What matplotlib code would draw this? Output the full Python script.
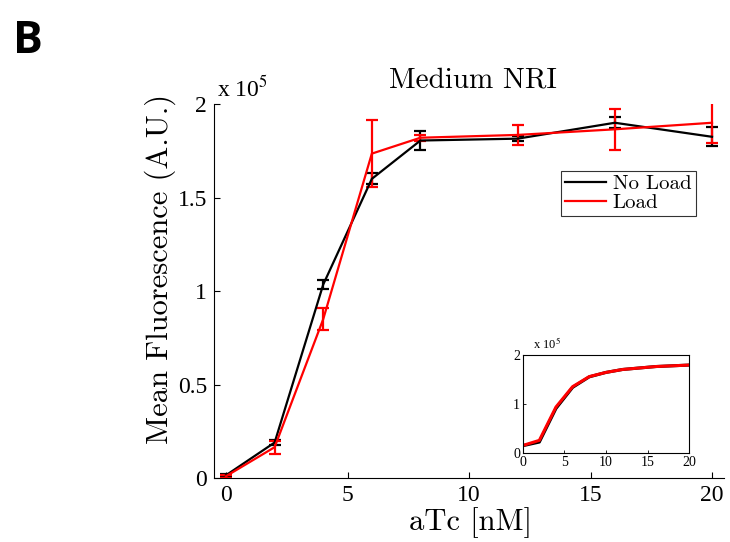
import matplotlib
matplotlib.use("Agg")
import matplotlib.pyplot as plt
from matplotlib.lines import Line2D

plt.rcParams["mathtext.fontset"] = "stix"

# main data: aTc [nM] vs mean fluorescence
atc = [0, 2, 4, 6, 8, 12, 16, 20]
no_load = [1500, 19000, 103500, 160000, 180500, 181500, 190000, 182500]
no_load_err = [800, 1500, 2500, 3000, 5000, 1500, 3000, 5000]
load = [1000, 16500, 85000, 173500, 182000, 183500, 186500, 190000]
load_err = [800, 3500, 6000, 18000, 1500, 5500, 11000, 11000]

# inset (model) curves
inset_x = [0, 2, 4, 6, 8, 10, 12, 14, 16, 18, 20]
inset_black = [15000, 22500, 91000, 134000, 155500, 164500, 170500, 173500, 176500, 178000, 179500]
inset_red = [15500, 26000, 94000, 135500, 156000, 164500, 170500, 173500, 176500, 178000, 179500]

xticks = [0, 5, 10, 15, 20]
yticks = [0, 50000, 100000, 150000, 200000]
ytick_labels = ["0", "0.5", "1", "1.5", "2"]

tick_font = "Liberation Serif"
label_font = "cmr10"

fig = plt.figure(figsize=(7.3, 5.42), dpi=100)
ax = fig.add_axes([0.293, 0.118, 0.699, 0.690])

ax.errorbar(atc, no_load, yerr=no_load_err, color="black", lw=1.6,
            capsize=4, capthick=1.6, elinewidth=1.6)
ax.errorbar(atc, load, yerr=load_err, color="#ff0000", lw=1.6,
            capsize=4, capthick=1.6, elinewidth=1.6)

ax.set_xlim(-0.5, 20.5)
ax.set_ylim(0, 200000)
ax.set_xticks(xticks)
ax.set_yticks(yticks)
ax.set_xticklabels([str(t) for t in xticks], fontname=tick_font, fontsize=17)
ax.set_yticklabels(ytick_labels, fontname=tick_font, fontsize=17)
ax.tick_params(direction="in", length=4, width=0.8, pad=5)
for s in ["top", "right"]:
    ax.spines[s].set_visible(False)

fig.text(0.219, 0.504, "Mean Fluorescence (A.U.)", rotation=90, ha="center",
         va="center", fontname=label_font, fontsize=22)
fig.text(0.645, 0.036, "aTc [nM]", ha="center", va="center",
         fontname=label_font, fontsize=22)
fig.text(0.648, 0.852, "Medium NRI", ha="center", va="center",
         fontname=label_font, fontsize=21)
fig.text(0.297, 0.813, r"x 10$^5$", ha="left", va="bottom",
         fontname=tick_font, fontsize=17)
fig.text(0.018, 0.902, "B", fontname="Open Sans", fontweight="bold", fontsize=32)

handles = [Line2D([], [], color="black", lw=1.6),
           Line2D([], [], color="#ff0000", lw=1.6)]
leg = ax.legend(handles, ["No Load", "Load"], loc="upper left",
                bbox_to_anchor=(0.768, 0.685), bbox_transform=fig.transFigure,
                frameon=True, fancybox=False, edgecolor="black", fontsize=15,
                borderpad=0.2, handlelength=2.0, handletextpad=0.3,
                labelspacing=0.0, borderaxespad=0)
leg.get_frame().set_linewidth(0.8)
for t in leg.get_texts():
    t.set_fontname(label_font)

# inset
ins = fig.add_axes([0.716, 0.164, 0.228, 0.181])
ins.plot(inset_x, inset_black, color="black", lw=2.2)
ins.plot(inset_x, inset_red, color="#ff0000", lw=2.2)
ins.set_xlim(0, 20)
ins.set_ylim(0, 200000)
ins.set_xticks(xticks)
ins.set_yticks([0, 100000, 200000])
ins.set_xticklabels([str(t) for t in xticks], fontname=tick_font, fontsize=10)
ins.set_yticklabels(["0", "1", "2"], fontname=tick_font, fontsize=10)
ins.tick_params(direction="in", length=2, width=0.6, pad=2)
fig.text(0.730, 0.350, r"x 10$^5$", ha="left", va="bottom",
         fontname=tick_font, fontsize=9)

fig.savefig("out.png", dpi=100)
